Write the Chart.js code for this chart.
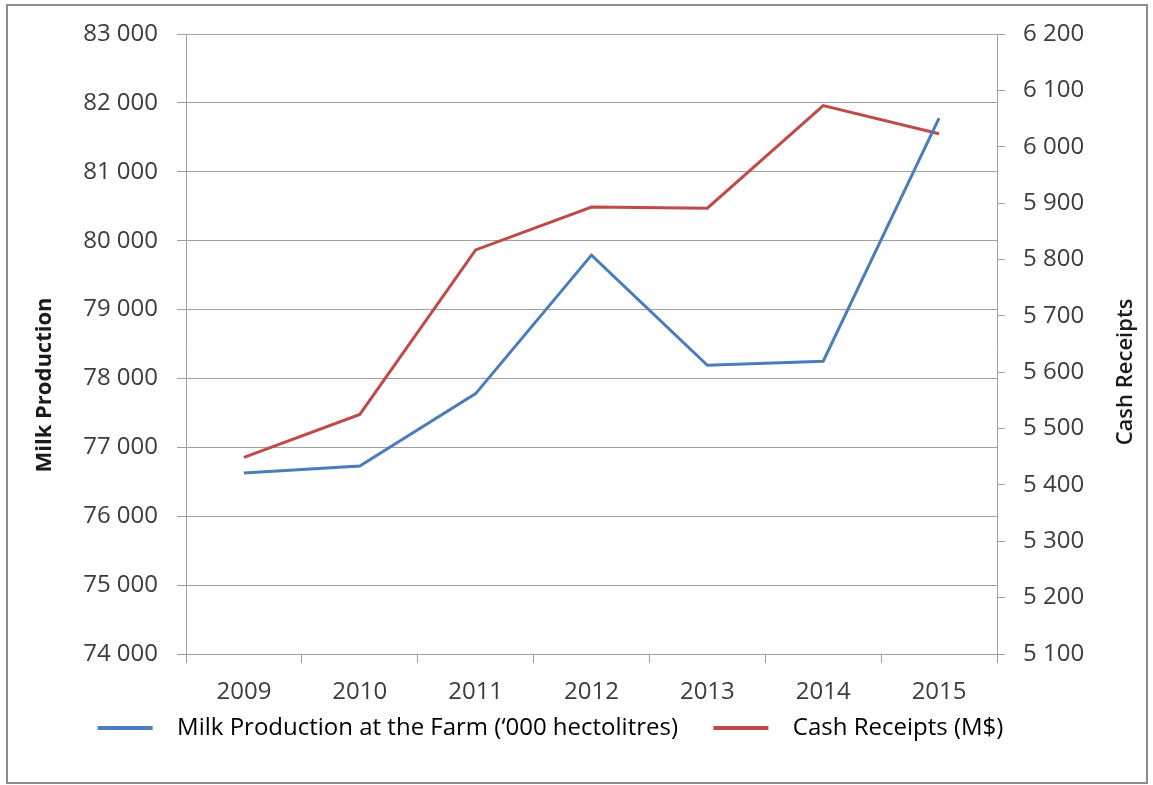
<!DOCTYPE html>
<html>
<head>
<meta charset="utf-8">
<script src="https://cdn.jsdelivr.net/npm/chart.js@4.4.1/dist/chart.umd.min.js"></script>
<style>
  body { margin: 0; background: #fff; }
  canvas { display: block; }
</style>
</head>
<body>
<canvas id="ChartContainer" width="1153" height="785"></canvas>
<script>
var years = ['2009', '2010', '2011', '2012', '2013', '2014', '2015'];
var milkProduction = [76626, 76728, 77780, 79791, 78192, 78250, 81779];
var cashReceipts = [5449, 5525, 5817, 5893, 5891, 6073, 6023];
var seriesNames = ['Milk Production at the Farm (\u2018000 hectolitres)', 'Cash Receipts (M$)'];
var axisTitles = ['Milk Production', 'Cash Receipts'];

var gridColor = '#a0a0a0';
var textColor = '#3c3c3c';
var fontFamily = '"Open Sans", "DejaVu Sans", sans-serif';

function spaced(value) {
    return String(value).replace(/\B(?=(\d{3})+(?!\d))/g, ' ');
}

// frame round the whole chart + the two rotated axis titles
var framePlugin = {
    id: 'frame',
    beforeDraw: function (chart) {
        var ctx = chart.ctx;
        ctx.save();
        ctx.strokeStyle = '#8c8c8c';
        ctx.lineWidth = 2;
        ctx.strokeRect(7, 5, 1140, 778);
        ctx.restore();
    },
    afterDraw: function (chart) {
        var ctx = chart.ctx;
        ctx.save();
        ctx.fillStyle = '#1a1a1a';
        ctx.textAlign = 'center';
        ctx.textBaseline = 'middle';
        ctx.font = 'bold 22px ' + fontFamily;
        ctx.translate(45, 385);
        ctx.rotate(-Math.PI / 2);
        ctx.fillText(axisTitles[0], 0, 0);
        ctx.restore();
        ctx.save();
        ctx.fillStyle = '#1a1a1a';
        ctx.textAlign = 'center';
        ctx.textBaseline = 'middle';
        ctx.font = '600 22px ' + fontFamily;
        ctx.translate(1126, 372);
        ctx.rotate(-Math.PI / 2);
        ctx.fillText(axisTitles[1], 0, 0);
        ctx.restore();
    }
};

new Chart(document.getElementById('ChartContainer').getContext('2d'), {
    type: 'line',
    data: {
        labels: years,
        datasets: [
            {
                label: seriesNames[0],
                data: milkProduction,
                borderColor: '#4a7ebb',
                backgroundColor: '#4a7ebb',
                borderWidth: 3,
                pointRadius: 0,
                tension: 0,
                yAxisID: 'yMilk'
            },
            {
                label: seriesNames[1],
                data: cashReceipts,
                borderColor: '#be4b48',
                backgroundColor: '#be4b48',
                borderWidth: 3,
                pointRadius: 0,
                tension: 0,
                yAxisID: 'yCash'
            }
        ]
    },
    options: {
        responsive: false,
        animation: false,
        devicePixelRatio: 1,
        layout: {
            padding: { top: 34, left: 0, right: 52, bottom: 35 }
        },
        plugins: {
            legend: {
                position: 'bottom',
                labels: {
                    boxWidth: 55,
                    boxHeight: 4,
                    padding: 8,
                    color: '#262626',
                    font: { family: fontFamily, size: 24 },
                    generateLabels: function (chart) {
                        return chart.data.datasets.map(function (ds, i) {
                            // leading gap after the line sample, trailing gap between the two items
                            return {
                                text: '  ' + ds.label + (i === 0 ? '    \u200A' : ''),
                                fillStyle: ds.borderColor,
                                strokeStyle: ds.borderColor,
                                lineWidth: 0,
                                datasetIndex: i
                            };
                        });
                    }
                }
            },
            tooltip: { enabled: false }
        },
        scales: {
            x: {
                type: 'category',
                offset: true,
                grid: {
                    display: true,
                    offset: true,
                    drawOnChartArea: false,
                    drawTicks: true,
                    tickLength: 9,
                    color: gridColor
                },
                border: { display: true, color: gridColor },
                ticks: {
                    color: textColor,
                    padding: 15,
                    maxRotation: 0,
                    autoSkip: false,
                    font: { family: fontFamily, size: 24 }
                },
                afterFit: function (scale) { scale.height = 54; }
            },
            yMilk: {
                type: 'linear',
                position: 'left',
                min: 74000,
                max: 83000,
                grid: {
                    color: gridColor,
                    tickLength: 9
                },
                border: { display: true, color: gridColor },
                ticks: {
                    stepSize: 1000,
                    color: textColor,
                    padding: 19,
                    font: { family: fontFamily, size: 24 },
                    callback: function (v) { return spaced(v); }
                },
                afterFit: function (scale) { scale.width = 186; }
            },
            yCash: {
                type: 'linear',
                position: 'right',
                min: 5100,
                max: 6200,
                grid: {
                    drawOnChartArea: false,
                    color: gridColor,
                    tickLength: 8
                },
                border: { display: true, color: gridColor },
                ticks: {
                    stepSize: 100,
                    color: textColor,
                    padding: 18,
                    font: { family: fontFamily, size: 24 },
                    callback: function (v) { return spaced(v); }
                },
                afterFit: function (scale) { scale.width = 104; }
            }
        }
    },
    plugins: [framePlugin]
});
</script>
</body>
</html>
